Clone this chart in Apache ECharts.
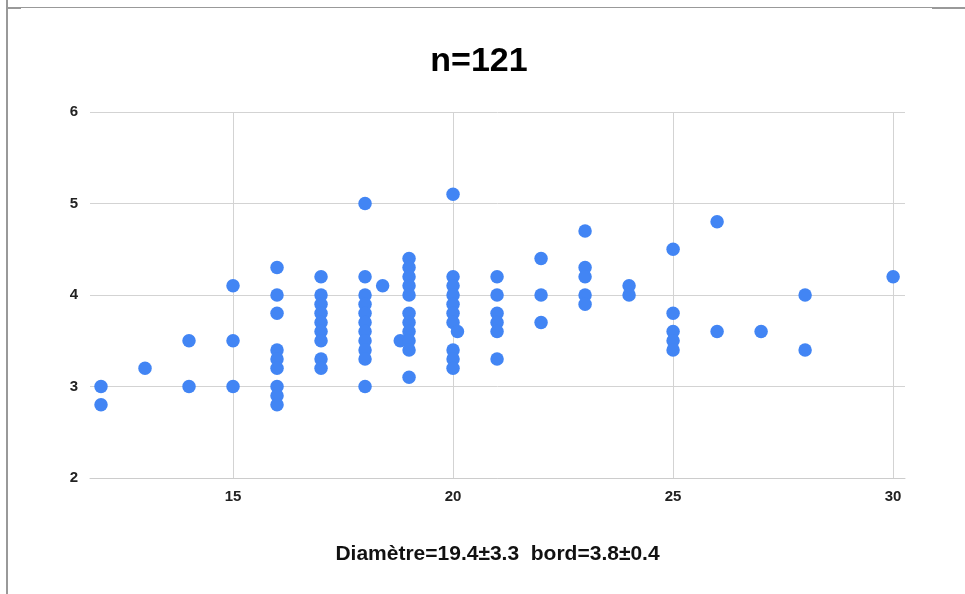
<!DOCTYPE html>
<html>
<head>
<meta charset="utf-8">
<style>html,body{margin:0;padding:0;background:#fff}#c{width:965px;height:594px}</style>
<script src="https://cdn.jsdelivr.net/npm/echarts@6/dist/echarts.min.js"></script>
</head>
<body>
<div id="c"></div>
<script>
// Data (visible points; overlapping duplicates not distinguishable)
const diametre = [
  12,12, 13, 14,14, 15,15,15,
  16,16,16,16,16,16,16,16,16,
  17,17,17,17,17,17,17,17,17,
  18,18,18,18,18,18,18,18,18,18,18, 18.4, 18.8,
  19,19,19,19,19,19,19,19,19,19,19,
  20,20,20,20,20,20,20,20,20,20, 20.1,
  21,21,21,21,21,21,
  22,22,22,
  23,23,23,23,23,
  24,24,
  25,25,25,25,25,
  26,26, 27, 28,28, 30
];
const bord = [
  3.0,2.8, 3.2, 3.5,3.0, 4.1,3.5,3.0,
  4.3,4.0,3.8,3.4,3.3,3.2,3.0,2.9,2.8,
  4.2,4.0,3.9,3.8,3.7,3.6,3.5,3.3,3.2,
  5.0,4.2,4.0,3.9,3.8,3.7,3.6,3.5,3.4,3.3,3.0, 4.1, 3.5,
  4.4,4.3,4.2,4.1,4.0,3.8,3.7,3.6,3.5,3.4,3.1,
  5.1,4.2,4.1,4.0,3.9,3.8,3.7,3.4,3.3,3.2, 3.6,
  4.2,4.0,3.8,3.7,3.6,3.3,
  4.4,4.0,3.7,
  4.7,4.3,4.2,4.0,3.9,
  4.1,4.0,
  4.5,3.8,3.6,3.5,3.4,
  4.8,3.6, 3.6, 4.0,3.4, 4.2
];
const xTicks = [15, 20, 25, 30];
const titleText = 'n=121';
const xAxisTitle = 'Diamètre=19.4±3.3  bord=3.8±0.4';

const points = diametre.map((d, i) => [d, bord[i]]);
const font = '"Liberation Sans", Arial, sans-serif';

const chart = echarts.init(document.getElementById('c'), null, {renderer: 'canvas'});
chart.setOption({
  animation: false,
  backgroundColor: '#fff',
  title: {
    text: titleText,
    left: 474, top: 40, textAlign: 'center',
    textStyle: {fontFamily: font, fontWeight: 'bold', fontSize: 34, color: '#000'}
  },
  grid: {left: 90, right: 60, top: 112, bottom: 116},
  xAxis: {
    type: 'value', min: 11.75, max: 30.27,
    name: xAxisTitle, nameLocation: 'middle', nameGap: 66,
    nameTextStyle: {fontFamily: font, fontWeight: 'bold', fontSize: 21, color: '#111'},
    axisLine: {show: true, lineStyle: {color: '#cccccc', width: 1}},
    axisTick: {show: false, customValues: xTicks},
    axisLabel: {customValues: xTicks, fontFamily: font, fontWeight: 'bold', fontSize: 15, color: '#222', margin: 11},
    splitLine: {show: true, lineStyle: {color: '#d3d3d3', width: 1}}
  },
  yAxis: {
    type: 'value', min: 2, max: 6, interval: 1,
    axisLine: {show: false}, axisTick: {show: false},
    axisLabel: {fontFamily: font, fontWeight: 'bold', fontSize: 15, color: '#222', margin: 12},
    splitLine: {show: true, lineStyle: {color: '#d3d3d3', width: 1}}
  },
  series: [{
    type: 'scatter', data: points, symbolSize: 13.5,
    itemStyle: {color: '#4285f4', opacity: 1}
  }],
  graphic: [
    {type: 'rect', shape: {x: 6, y: 0, width: 2, height: 594}, style: {fill: '#999'}},
    {type: 'rect', shape: {x: 7, y: 7, width: 925, height: 1}, style: {fill: '#999'}},
    {type: 'rect', shape: {x: 7, y: 7, width: 14, height: 2}, style: {fill: '#999'}},
    {type: 'rect', shape: {x: 932, y: 7, width: 33, height: 2}, style: {fill: '#999'}}
  ]
});
</script>
</body>
</html>
